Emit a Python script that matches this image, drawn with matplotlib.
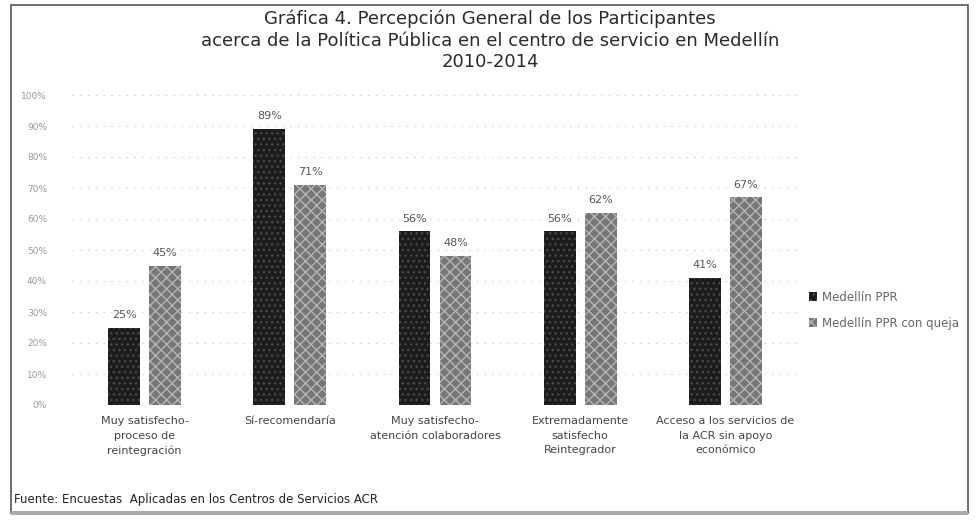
import numpy as np
import matplotlib
matplotlib.use("Agg")
import matplotlib.pyplot as plt
from matplotlib.patches import Rectangle

# === Datos ===
categorias = [
    "Muy satisfecho-\nproceso de\nreintegración",
    "Sí-recomendaría",
    "Muy satisfecho-\natención colaboradores",
    "Extremadamente\nsatisfecho\nReintegrador",
    "Acceso a los servicios de\nla ACR sin apoyo\neconómico",
]
medellin_ppr = [25, 89, 56, 56, 41]
medellin_queja = [45, 71, 48, 62, 67]
series = ["Medellín PPR", "Medellín PPR con queja"]
yticks = [0, 10, 20, 30, 40, 50, 60, 70, 80, 90, 100]

# === Figura ===
fig = plt.figure(figsize=(9.76, 5.21), dpi=100)
ax = fig.add_axes([72 / 976, 116 / 521, 726 / 976, 310 / 521])

x = np.arange(len(categorias))
ancho = 0.22
desp = 0.141

b1 = ax.bar(x - desp, medellin_ppr, ancho, color="#1c1c1c", edgecolor="#4a4a4a",
            hatch="...", linewidth=0, label=series[0])
b2 = ax.bar(x + desp, medellin_queja, ancho, color="#767676", edgecolor="#b5b5b5",
            hatch="xxx", linewidth=0, label=series[1])

for barras in (b1, b2):
    for b in barras:
        ax.text(b.get_x() + b.get_width() / 2, b.get_height() + 2.5,
                f"{int(b.get_height())}%", ha="center", va="bottom",
                fontsize=8, color="#555555")

ax.set_xlim(-0.5, len(categorias) - 0.5)
ax.set_ylim(0, 100)
ax.set_yticks(yticks)
ax.set_yticklabels([f"{v}%" for v in yticks], fontsize=6.5, color="#999999")
ax.set_xticks(x)
ax.set_xticklabels(categorias, fontsize=8, color="#444444", linespacing=1.55)
ax.tick_params(length=0, pad=8)
ax.tick_params(axis="y", pad=18)
ax.yaxis.grid(True, linestyle=(0, (1, 6)), color="#999999", linewidth=0.8, alpha=0.6)
ax.set_axisbelow(True)
for s in ax.spines.values():
    s.set_visible(False)

ax.legend(loc="center left", bbox_to_anchor=(1.0, 0.306), frameon=False,
          fontsize=8.5, labelcolor="#666666", handlelength=0.7, handleheight=0.7,
          handletextpad=0.4, labelspacing=1.1)

titulo = [
    "Gráfica 4. Percepción General de los Participantes",
    "acerca de la Política Pública en el centro de servicio en Medellín",
    "2010-2014",
]
for i, linea in enumerate(titulo):
    fig.text(0.502, 1 - (19 + i * 21.5) / 521, linea, ha="center", va="center",
             fontsize=13, color="#2a2a2a")

fig.text(14 / 976, 1 - 499 / 521, "Fuente: Encuestas  Aplicadas en los Centros de Servicios ACR",
         ha="left", va="center", fontsize=8.5, color="#222222")

# marco
fig.patches.append(Rectangle((11 / 976, 8 / 521), 957 / 976, 508 / 521,
                             transform=fig.transFigure, fill=False,
                             edgecolor="#555555", linewidth=1.2))
fig.patches.append(Rectangle((11 / 976, 6 / 521), 957 / 976, 4 / 521,
                             transform=fig.transFigure, facecolor="#aaaaaa",
                             edgecolor="none"))

fig.savefig("out.png", dpi=100)
